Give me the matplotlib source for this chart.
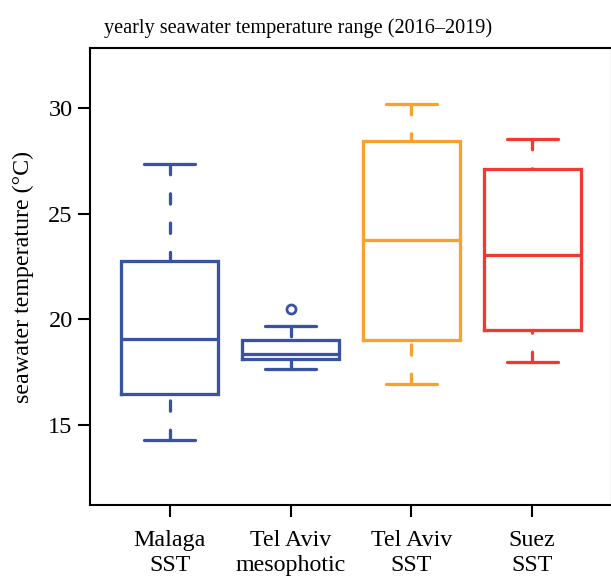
import matplotlib
matplotlib.use("Agg")
import matplotlib.pyplot as plt

plt.rcParams['font.family'] = ['Liberation Serif', 'DejaVu Serif']
plt.rcParams['lines.scale_dashes'] = False

# ---- data ----
categories = ["Malaga\nSST", "Tel Aviv\nmesophotic", "Tel Aviv\nSST", "Suez\nSST"]
whisker_low = [14.31, 17.63, 16.92, 17.96]
q1 = [16.45, 18.12, 19.03, 19.49]
median = [19.07, 18.38, 23.76, 23.06]
q3 = [22.78, 19.0, 28.46, 27.11]
whisker_high = [27.35, 19.66, 30.19, 28.55]
outliers = [[], [20.5], [], []]
colors = ["#3953A4", "#3953A4", "#F9A12E", "#EE3B2F"]
yticks = [15, 20, 25, 30]
title = "yearly seawater temperature range (2016\u20132019)"
ylabel = "seawater temperature (\u00b0C)"

W, H = 611, 578
fig = plt.figure(figsize=(W / 100, H / 100), dpi=100)
ax = fig.add_axes([90 / W, (H - 505) / H, (612 - 90) / W, (505 - 48) / H])

stats = []
for i in range(len(categories)):
    stats.append(dict(whislo=whisker_low[i], q1=q1[i], med=median[i], q3=q3[i],
                      whishi=whisker_high[i], fliers=outliers[i]))

lw = 2.35
positions = list(range(1, len(categories) + 1))
bp = ax.bxp(stats, positions=positions, widths=0.8, showfliers=True,
            patch_artist=False, capwidths=0.42)
for i, c in enumerate(colors):
    b = bp['boxes'][i]
    b.set_color(c); b.set_linewidth(lw); b.set_solid_joinstyle('miter')
    bp['medians'][i].set_color(c); bp['medians'][i].set_linewidth(lw)
    for w in bp['whiskers'][2 * i:2 * i + 2]:
        # draw from the cap towards the box (dash phase starts at the cap)
        w.set_xdata(list(w.get_xdata())[::-1])
        w.set_ydata(list(w.get_ydata())[::-1])
        w.set_color(c); w.set_linewidth(lw)
        w.set_linestyle((0, (7.4, 13.7)))
        w.set_dash_capstyle('round')
    for cp in bp['caps'][2 * i:2 * i + 2]:
        cp.set_color(c); cp.set_linewidth(lw); cp.set_solid_capstyle('round')
    f = bp['fliers'][i]
    f.set_marker('o'); f.set_markerfacecolor('none'); f.set_markeredgecolor(c)
    f.set_markersize(6.5); f.set_markeredgewidth(2.0)

ax.set_xlim(0.34, 4.66)
ax.set_ylim(11.21, 32.84)
ax.set_yticks(yticks)
ax.set_yticklabels([str(t) for t in yticks], fontsize=17.5)
ax.set_xticks(positions)
ax.set_xticklabels(categories, fontsize=17.3, linespacing=1.22)
ax.tick_params(axis='both', length=8.5, width=1.5, color='black')
ax.tick_params(axis='y', pad=4)
ax.tick_params(axis='x', pad=9.5)
for s in ax.spines.values():
    s.set_linewidth(1.5)

fig.text(23 / W, 1 - 277 / H, ylabel, rotation=90, ha='center', va='center', fontsize=17.3)
fig.text(298 / W, 1 - 28 / H, title, ha='center', va='center', fontsize=14.6)

fig.savefig("out.png", dpi=100)
